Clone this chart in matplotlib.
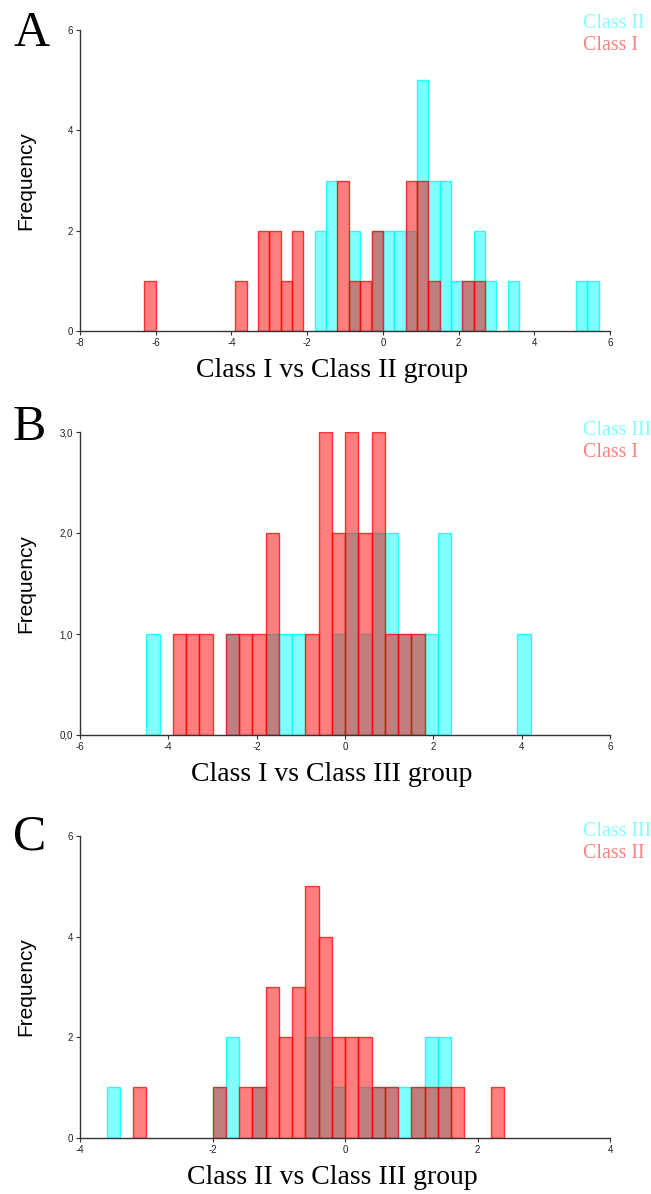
import matplotlib
matplotlib.use("Agg")
import matplotlib.pyplot as plt

plt.rcParams["axes.unicode_minus"] = False

# Panel A: Class I vs Class II (bin width 0.3, left edges)
a_cls2_left = [-1.8, -1.5, -0.9, -0.3, 0.0, 0.3, 0.6, 0.9, 1.2, 1.5, 1.8, 2.1, 2.4, 2.7, 3.3, 5.1, 5.4]
a_cls2_count = [2, 3, 2, 2, 2, 2, 2, 5, 3, 3, 1, 1, 2, 1, 1, 1, 1]
a_cls1_left = [-6.3, -3.9, -3.3, -3.0, -2.7, -2.4, -1.2, -0.9, -0.6, -0.3, 0.6, 0.9, 1.2, 2.1, 2.4]
a_cls1_count = [1, 1, 2, 2, 1, 2, 3, 1, 1, 2, 3, 3, 1, 1, 1]

# Panel B: Class I vs Class III (bin width 0.3)
b_cls3_left = [-4.5, -2.7, -1.8, -1.5, -1.2, -0.3, 0.0, 0.3, 0.6, 0.9, 1.2, 1.5, 1.8, 2.1, 3.9]
b_cls3_count = [1, 1, 1, 1, 1, 1, 2, 1, 2, 2, 1, 1, 1, 2, 1]
b_cls1_left = [-3.9, -3.6, -3.3, -2.7, -2.4, -2.1, -1.8, -0.9, -0.6, -0.3, 0.0, 0.3, 0.6, 0.9, 1.2, 1.5]
b_cls1_count = [1, 1, 1, 1, 1, 1, 2, 1, 3, 2, 3, 2, 3, 1, 1, 1]

# Panel C: Class II vs Class III (bin width 0.2)
c_cls3_left = [-3.6, -2.0, -1.8, -1.4, -0.6, -0.4, -0.2, 0.2, 0.4, 0.6, 0.8, 1.0, 1.2, 1.4]
c_cls3_count = [1, 1, 2, 1, 2, 2, 1, 1, 1, 1, 1, 1, 2, 2]
c_cls2_left = [-3.2, -2.0, -1.6, -1.4, -1.2, -1.0, -0.8, -0.6, -0.4, -0.2, 0.0, 0.2, 0.4, 0.6, 1.0, 1.2, 1.4, 1.6, 2.2]
c_cls2_count = [1, 1, 1, 1, 3, 2, 3, 5, 4, 2, 2, 2, 1, 1, 1, 1, 1, 1, 1]

CYAN_FACE = (0, 1, 1, 0.5)
CYAN_EDGE = (0, 1, 1, 0.8)
RED_FACE = (1, 0, 0, 0.5)
RED_EDGE = (1, 0, 0, 0.75)
SERIF = "Liberation Serif"
SANS = "Liberation Sans"

W, H = 651, 1194
fig = plt.figure(figsize=(W / 100, H / 100), dpi=100)


def px_axes(top, bottom):
    return fig.add_axes([80 / W, 1 - bottom / H, 530 / W, (bottom - top) / H])


panels = [
    dict(top=30, bottom=331, letter="A", letter_base=46, width=0.3,
         back=(a_cls2_left, a_cls2_count, "Class II"),
         front=(a_cls1_left, a_cls1_count, "Class I"),
         xlim=(-8, 6), xticks=range(-8, 7, 2), ylim=(0, 6), yticks=[0, 2, 4, 6],
         ylabels=["0", "2", "4", "6"], xlabel="Class I vs Class II group",
         leg_top=14),
    dict(top=432, bottom=735, letter="B", letter_base=440, width=0.3,
         back=(b_cls3_left, b_cls3_count, "Class III"),
         front=(b_cls1_left, b_cls1_count, "Class I"),
         xlim=(-6, 6), xticks=range(-6, 7, 2), ylim=(0, 3), yticks=[0, 1, 2, 3],
         ylabels=["0,0", "1,0", "2,0", "3,0"], xlabel="Class I vs Class III group",
         leg_top=421),
    dict(top=836, bottom=1137.7, letter="C", letter_base=850, width=0.2,
         back=(c_cls3_left, c_cls3_count, "Class III"),
         front=(c_cls2_left, c_cls2_count, "Class II"),
         xlim=(-4, 4), xticks=range(-4, 5, 2), ylim=(0, 6), yticks=[0, 2, 4, 6],
         ylabels=["0", "2", "4", "6"], xlabel="Class II vs Class III group",
         leg_top=822),
]

for p in panels:
    ax = px_axes(p["top"], p["bottom"])
    bl, bc, bname = p["back"]
    fl, fc, fname = p["front"]
    ax.bar(bl, bc, width=p["width"], align="edge", color=CYAN_FACE,
           edgecolor=CYAN_EDGE, linewidth=1)
    ax.bar(fl, fc, width=p["width"], align="edge", color=RED_FACE,
           edgecolor=RED_EDGE, linewidth=1)
    ax.set_xlim(*p["xlim"])
    ax.set_ylim(*p["ylim"])
    ax.set_xticks(list(p["xticks"]))
    ax.set_yticks(p["yticks"])
    ax.set_yticklabels(p["ylabels"])
    for s in ["top", "right"]:
        ax.spines[s].set_visible(False)
    for s in ["left", "bottom"]:
        ax.spines[s].set_color("#333333")
        ax.spines[s].set_linewidth(1)
    ax.tick_params(length=3, width=0.8, color="#333333", labelsize=7,
                   labelcolor="#222222", pad=2)
    for lab in ax.get_xticklabels() + ax.get_yticklabels():
        lab.set_family(SANS)

    mid = (p["top"] + p["bottom"]) / 2
    fig.text(26 / W, 1 - mid / H, "Frequency", rotation=90, ha="center",
             va="center", fontsize=15, family=SANS, color="black")
    fig.text(332 / W, 1 - (p["bottom"] + 46) / H, p["xlabel"], ha="center",
             va="baseline", fontsize=20, family=SERIF, color="black")
    fig.text(13 / W, 1 - p["letter_base"] / H, p["letter"], ha="left",
             va="baseline", fontsize=36, family=SERIF, color="black")
    fig.text(583 / W, 1 - p["leg_top"] / H, bname, ha="left", va="top",
             fontsize=14.3, family=SERIF, color=(0.5, 1, 1))
    fig.text(583 / W, 1 - (p["leg_top"] + 22) / H, fname, ha="left", va="top",
             fontsize=14.3, family=SERIF, color=(1, 0.5, 0.5))

fig.savefig("out.png", dpi=100)
